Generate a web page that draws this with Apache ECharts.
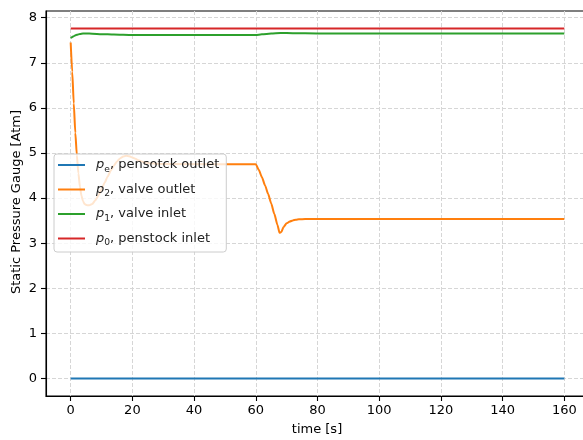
<!DOCTYPE html>
<html>
<head>
<meta charset="utf-8">
<script src="https://cdn.jsdelivr.net/npm/echarts@6/dist/echarts.min.js"></script>
<style>html,body{margin:0;padding:0;background:#fff}#c{width:583px;height:440px}</style>
</head>
<body>
<div id="c"></div>
<script>
// ---- data ----
const xTicks = [0, 20, 40, 60, 80, 100, 120, 140, 160];
const yTicks = [0, 1, 2, 3, 4, 5, 6, 7, 8];
const xTitle = 'time [s]';
const yTitle = 'Static Pressure Gauge [Atm]';

const seriesSubs = ['e', '2', '1', '0'];
const seriesDescs = ['pensotck outlet', 'valve outlet', 'valve inlet', 'penstock inlet'];
const seriesNames = ['p_e, pensotck outlet', 'p_2, valve outlet', 'p_1, valve inlet', 'p_0, penstock inlet'];
const seriesColors = ['#1f77b4', '#ff7f0e', '#2ca02c', '#d62728'];

const peTime = [0, 160];
const peVals = [0, 0];

const p2Time = [0, 0.5, 1, 1.5, 2, 2.5, 3, 3.5, 4, 4.5, 5, 5.5, 6, 7, 8, 9, 10, 11, 12, 13, 14, 15, 16, 17, 18, 19, 20, 21, 22, 23, 24, 26, 28, 30, 60,
  61, 62, 63, 64, 65, 66, 67, 67.7, 68.3, 69, 70, 71, 72, 73, 74, 76, 80, 160];
const p2Vals = [7.45, 6.8, 6.1, 5.45, 4.95, 4.55, 4.25, 4.05, 3.93, 3.87, 3.85, 3.84, 3.84, 3.87, 3.95, 4.06, 4.2, 4.34, 4.48, 4.61, 4.72, 4.81, 4.88, 4.92, 4.94, 4.93, 4.9, 4.87, 4.84, 4.81, 4.79, 4.77, 4.76, 4.755, 4.75,
  4.62, 4.46, 4.28, 4.09, 3.88, 3.65, 3.41, 3.23, 3.25, 3.36, 3.44, 3.48, 3.505, 3.52, 3.53, 3.535, 3.535, 3.535];

const p1Time = [0, 1, 2, 3, 4, 5, 7, 10, 14, 20, 60, 62, 65, 68, 72, 80, 160];
const p1Vals = [7.55, 7.59, 7.62, 7.64, 7.65, 7.65, 7.645, 7.635, 7.625, 7.615, 7.615, 7.63, 7.65, 7.66, 7.655, 7.65, 7.65];

const p0Time = [0, 160];
const p0Vals = [7.76, 7.76];

// ---- chart ----
const zip = (t, v) => t.map((x, i) => [x, v[i]]);
const seriesData = [zip(peTime, peVals), zip(p2Time, p2Vals), zip(p1Time, p1Vals), zip(p0Time, p0Vals)];

const FONT = 'DejaVu Sans';
const FS = 13;
const gridLine = { show: true, lineStyle: { color: '#d6d6d6', width: 1, type: [4, 2] } };
const titleStyle = { fontFamily: FONT, fontSize: FS, fill: '#000', align: 'center', verticalAlign: 'middle',
  textAlign: 'center', textVerticalAlign: 'middle' };

const chart = echarts.init(document.getElementById('c'), null, { renderer: 'canvas' });
chart.setOption({
  animation: false,
  textStyle: { fontFamily: FONT },
  grid: { left: 46, right: -6, top: 11, bottom: 44, containLabel: false, outerBoundsMode: 'none',
    show: true, borderColor: '#000', borderWidth: 1.1, backgroundColor: 'transparent' },
  graphic: [
    { type: 'text', x: 317, y: 430, style: Object.assign({ text: xTitle }, titleStyle) },
    { type: 'text', x: 17, y: 202, rotation: Math.PI / 2, style: Object.assign({ text: yTitle }, titleStyle) }
  ],
  xAxis: {
    type: 'value', min: -8, max: 168,
    axisLine: { show: true, onZero: false, lineStyle: { color: '#000', width: 1.1 } },
    axisTick: { show: true, length: 5, lineStyle: { color: '#000', width: 1.1 }, customValues: xTicks },
    axisLabel: { fontFamily: FONT, fontSize: FS, color: '#000', margin: 8, customValues: xTicks },
    splitLine: gridLine
  },
  yAxis: {
    type: 'value', min: -0.388, max: 8.148,
    axisLine: { show: true, onZero: false, lineStyle: { color: '#000', width: 1.1 } },
    axisTick: { show: true, length: 5, lineStyle: { color: '#000', width: 1.1 }, customValues: yTicks },
    axisLabel: { fontFamily: FONT, fontSize: FS, color: '#000', margin: 9, customValues: yTicks },
    splitLine: gridLine
  },
  legend: {
    orient: 'vertical', left: 54, top: 154,
    padding: [2, 7, 4.5, 4],
    icon: 'rect',
    itemWidth: 27, itemHeight: 2, itemGap: 6.5,
    backgroundColor: 'rgba(255,255,255,0.8)', borderColor: '#cccccc', borderWidth: 1, borderRadius: 3,
    data: seriesNames,
    formatter: function (name) {
      const i = seriesNames.indexOf(name);
      return '{p|p}{s|' + seriesSubs[i] + '}{t|, ' + seriesDescs[i] + '}';
    },
    textStyle: {
      fontFamily: FONT, fontSize: FS, color: '#222', lineHeight: 18, padding: [0, 0, 0, 6],
      rich: {
        p: { fontFamily: FONT, fontSize: FS, fontStyle: 'italic', color: '#222', lineHeight: 18, verticalAlign: 'middle' },
        s: { fontFamily: FONT, fontSize: 9.2, color: '#222', lineHeight: 18, verticalAlign: 'bottom' },
        t: { fontFamily: FONT, fontSize: FS, color: '#222', lineHeight: 18, verticalAlign: 'middle' }
      }
    }
  },
  series: seriesNames.map((n, i) => ({
    name: n, type: 'line', data: seriesData[i], symbol: 'none', smooth: 0.2, smoothMonotone: 'x',
    lineStyle: { color: seriesColors[i], width: 2 }, itemStyle: { color: seriesColors[i] },
    clip: true
  }))
});
</script>
</body>
</html>
